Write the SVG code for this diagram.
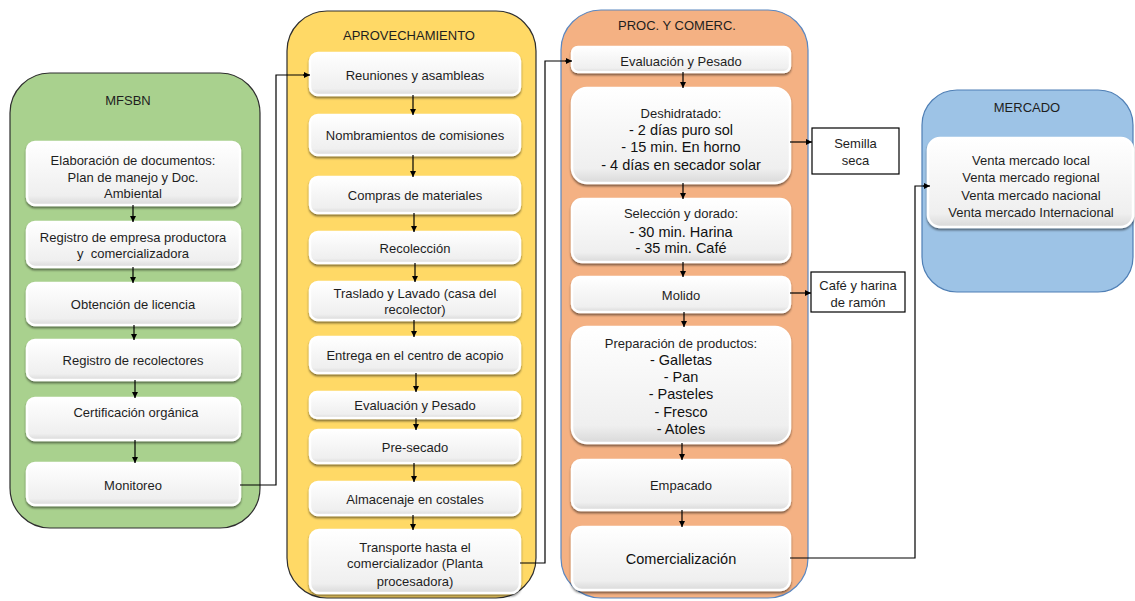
<svg xmlns="http://www.w3.org/2000/svg" width="1135" height="601" viewBox="0 0 1135 601">
<defs>
<linearGradient id="bg" x1="0" y1="0" x2="0" y2="1">
<stop offset="0" stop-color="#ffffff"/>
<stop offset="0.85" stop-color="#efefef"/>
<stop offset="1" stop-color="#d9d9d9"/>
</linearGradient>
<filter id="sh" x="-10%" y="-20%" width="120%" height="150%">
<feDropShadow dx="0" dy="2" stdDeviation="1.2" flood-color="#000" flood-opacity="0.5"/>
</filter>
<marker id="ah" viewBox="0 0 10 10" refX="10" refY="5" markerWidth="7" markerHeight="6" markerUnits="userSpaceOnUse" orient="auto">
<path d="M0,0 L10,5 L0,10 z" fill="#000"/>
</marker>
<style>
.box{fill:url(#bg);stroke:#fff;stroke-width:2.5;filter:url(#sh)}
.t{font-family:"Liberation Sans",Arial,sans-serif;font-size:13px;fill:#1e1e1e;text-anchor:middle}
.a{font-family:"Liberation Sans",Arial,sans-serif;font-size:14.5px;fill:#111;text-anchor:middle}
.out{fill:#fff;stroke:#000;stroke-width:1.2}
.c{fill:none;stroke:#000;stroke-width:1.2}
.ar{stroke:#000;stroke-width:1.2;marker-end:url(#ah)}
</style>
</defs>

<g id="lane-mfsbn">
<rect x="10" y="73" width="250" height="455" rx="40" fill="#a9d18e" stroke="#2e2e2e" stroke-width="1.2"/>
<text class="t" x="128" y="104.5">MFSBN</text>
</g>
<g id="lane-aprov">
<rect x="287" y="11" width="249" height="587" rx="40" fill="#ffd966" stroke="#2e2e2e" stroke-width="1.2"/>
<text class="t" x="409" y="39.5">APROVECHAMIENTO</text>
</g>
<g id="lane-proc">
<rect x="561" y="10" width="247" height="588" rx="40" fill="#f4b183" stroke="#5b87c0" stroke-width="1.2"/>
<text class="t" x="677" y="29.5">PROC. Y COMERC.</text>
</g>
<g id="lane-mercado">
<rect x="922" y="90" width="211" height="202" rx="35" fill="#9dc3e6" stroke="#4f7fb5" stroke-width="1.2"/>
<text class="t" x="1027" y="111.5">MERCADO</text>
</g>

<g id="m1"><rect class="box" x="27" y="142" width="213" height="63" rx="8"/>
<text class="t" x="133" y="164.5">Elaboración de documentos:</text>
<text class="t" x="133" y="181.5">Plan de manejo y Doc.</text>
<text class="t" x="133" y="197.5">Ambiental</text></g>
<g id="m2"><rect class="box" x="27" y="222" width="213" height="45" rx="8"/>
<text class="t" x="133" y="241.5">Registro de empresa productora</text>
<text class="t" x="133" y="257.5" xml:space="preserve">y  comercializadora</text></g>
<g id="m3"><rect class="box" x="27" y="283" width="213" height="42" rx="8"/>
<text class="t" x="133" y="309">Obtención de licencia</text></g>
<g id="m4"><rect class="box" x="27" y="340" width="213" height="40" rx="8"/>
<text class="t" x="133" y="364.5">Registro de recolectores</text></g>
<g id="m5"><rect class="box" x="27" y="398" width="213" height="42" rx="8"/>
<text class="t" x="136" y="416.5">Certificación orgánica</text></g>
<g id="m6"><rect class="box" x="27" y="463" width="213" height="42" rx="8"/>
<text class="t" x="133" y="489.5">Monitoreo</text></g>

<g id="a1"><rect class="box" x="310" y="53" width="210" height="42" rx="8"/>
<text class="t" x="415" y="79.5">Reuniones y asambleas</text></g>
<g id="a2"><rect class="box" x="310" y="115" width="210" height="40" rx="8"/>
<text class="t" x="415" y="139.5">Nombramientos de comisiones</text></g>
<g id="a3"><rect class="box" x="310" y="177" width="210" height="36" rx="8"/>
<text class="t" x="415" y="199.5">Compras de materiales</text></g>
<g id="a4"><rect class="box" x="310" y="232" width="210" height="31" rx="8"/>
<text class="t" x="415" y="252.5">Recolección</text></g>
<g id="a5"><rect class="box" x="310" y="282" width="210" height="38" rx="8"/>
<text class="t" x="415" y="297.5">Traslado y Lavado (casa del</text>
<text class="t" x="415" y="314">recolector)</text></g>
<g id="a6"><rect class="box" x="310" y="337" width="210" height="36" rx="8"/>
<text class="t" x="415" y="359.5">Entrega en el centro de acopio</text></g>
<g id="a7"><rect class="box" x="310" y="392" width="210" height="26" rx="7"/>
<text class="t" x="415" y="409.5">Evaluación y Pesado</text></g>
<g id="a8"><rect class="box" x="310" y="430" width="210" height="33" rx="8"/>
<text class="t" x="415" y="451.5">Pre-secado</text></g>
<g id="a9"><rect class="box" x="310" y="482" width="210" height="33" rx="8"/>
<text class="t" x="415" y="503.5">Almacenaje en costales</text></g>
<g id="a10"><rect class="box" x="310" y="530" width="210" height="63" rx="9"/>
<text class="t" x="415" y="551.5">Transporte hasta el</text>
<text class="t" x="415" y="568">comercializador (Planta</text>
<text class="t" x="415" y="586">procesadora)</text></g>

<g id="p1"><rect class="box" x="572" y="47" width="218" height="25" rx="6"/>
<text class="t" x="681" y="66">Evaluación y Pesado</text></g>
<g id="p2"><rect class="box" x="572" y="88" width="218" height="95" rx="15"/>
<text class="t" x="681" y="117.5">Deshidratado:</text>
<text class="a" x="681" y="135">- 2 días puro sol</text>
<text class="a" x="681" y="152">- 15 min. En horno</text>
<text class="a" x="681" y="170">- 4 días en secador solar</text></g>
<g id="p3"><rect class="box" x="572" y="199" width="218" height="63" rx="10"/>
<text class="t" x="681" y="217.5">Selección y dorado:</text>
<text class="a" x="681" y="237">- 30 min. Harina</text>
<text class="a" x="681" y="253">- 35 min. Café</text></g>
<g id="p4"><rect class="box" x="572" y="277" width="218" height="35" rx="8"/>
<text class="t" x="681" y="299.5">Molido</text></g>
<g id="p5"><rect class="box" x="572" y="327" width="218" height="116" rx="15"/>
<text class="t" x="681" y="347.5">Preparación de productos:</text>
<text class="a" x="681" y="365">- Galletas</text>
<text class="a" x="681" y="382">- Pan</text>
<text class="a" x="681" y="399">- Pasteles</text>
<text class="a" x="681" y="417">- Fresco</text>
<text class="a" x="681" y="434">- Atoles</text></g>
<g id="p6"><rect class="box" x="572" y="460" width="218" height="50" rx="9"/>
<text class="t" x="681" y="489.5">Empacado</text></g>
<g id="p7"><rect class="box" x="572" y="527" width="218" height="63" rx="10"/>
<text class="a" x="681" y="563.5">Comercialización</text></g>

<g id="semilla"><rect class="out" x="812" y="128" width="87" height="46"/>
<text class="t" x="855.5" y="147.5">Semilla</text>
<text class="t" x="855.5" y="164.5">seca</text></g>
<g id="cafe"><rect class="out" x="811" y="272" width="94" height="40"/>
<text class="t" x="858" y="289.5">Café y harina</text>
<text class="t" x="858" y="306.5">de ramón</text></g>

<g id="mk1"><rect class="box" x="928" y="138" width="205" height="89" rx="12"/>
<text class="t" x="1031" y="164.5">Venta mercado local</text>
<text class="t" x="1031" y="181.5">Venta mercado regional</text>
<text class="t" x="1031" y="199.5">Venta mercado nacional</text>
<text class="t" x="1031" y="216.5">Venta mercado Internacional</text></g>

<g id="connectors">
<line class="ar" x1="133" y1="205" x2="133" y2="222"/>
<line class="ar" x1="133" y1="267" x2="133" y2="283"/>
<line class="ar" x1="134" y1="325" x2="134" y2="340"/>
<line class="ar" x1="135" y1="380" x2="135" y2="398"/>
<line class="ar" x1="135" y1="440" x2="135" y2="463"/>
<polyline class="c" points="240,485 276,485 276,75 304,75"/>
<line class="ar" x1="303" y1="75" x2="310" y2="75"/>

<line class="ar" x1="413" y1="95" x2="413" y2="115"/>
<line class="ar" x1="413" y1="155" x2="413" y2="177"/>
<line class="ar" x1="414" y1="213" x2="414" y2="232"/>
<line class="ar" x1="415" y1="263" x2="415" y2="282"/>
<line class="ar" x1="414" y1="320" x2="414" y2="337"/>
<line class="ar" x1="416" y1="373" x2="416" y2="392"/>
<line class="ar" x1="416" y1="418" x2="416" y2="430"/>
<line class="ar" x1="414" y1="463" x2="414" y2="482"/>
<line class="ar" x1="413" y1="515" x2="413" y2="530"/>
<polyline class="c" points="520,563 545,563 545,61 566,61"/>
<line class="ar" x1="565" y1="61" x2="572" y2="61"/>

<line class="ar" x1="683" y1="72" x2="683" y2="88"/>
<line class="ar" x1="683" y1="183" x2="683" y2="199"/>
<line class="ar" x1="683" y1="262" x2="683" y2="277"/>
<line class="ar" x1="684" y1="312" x2="684" y2="327"/>
<line class="ar" x1="682" y1="443" x2="682" y2="460"/>
<line class="ar" x1="682" y1="510" x2="682" y2="527"/>
<line class="ar" x1="790" y1="142" x2="812" y2="142"/>
<line class="ar" x1="790" y1="293" x2="811" y2="293"/>
<polyline class="c" points="790,558 915,558 915,186 924,186"/>
<line class="ar" x1="923" y1="186" x2="930" y2="186"/>
</g>
</svg>
